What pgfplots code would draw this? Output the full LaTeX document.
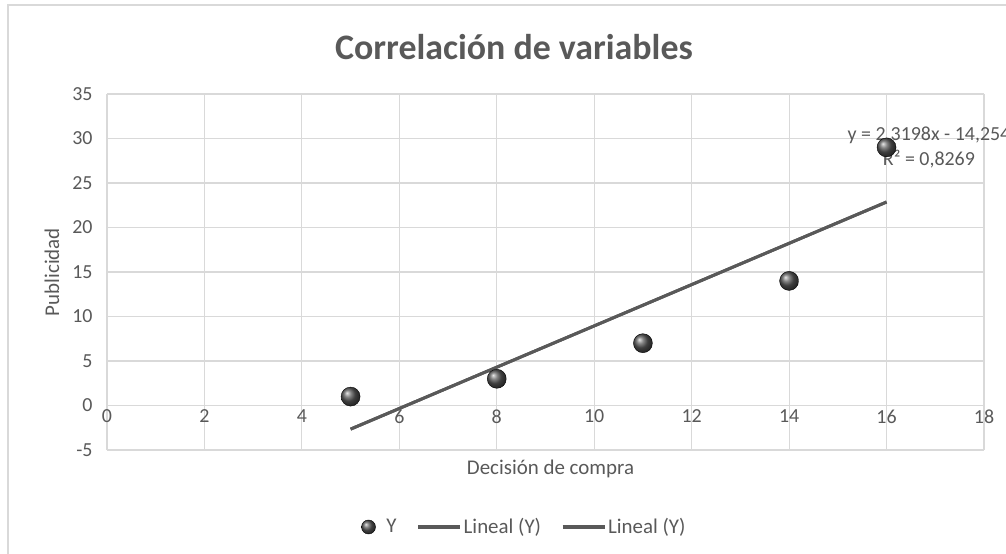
\documentclass[border=0pt]{standalone}
\usepackage{fontspec}
\setmainfont{Carlito}
\usepackage{pgfplots}
\pgfplotsset{compat=1.18}

\definecolor{txtgray}{HTML}{595959}
\definecolor{gridgray}{HTML}{D9D9D9}
\definecolor{linegray}{HTML}{595959}

\begin{document}
\begin{tikzpicture}
  % chart area border
  \draw[gridgray, line width=1.5bp] (8bp,-20bp) -- (8bp,549bp) -- (1030bp,549bp);
  % title
  \node[text=txtgray, font=\bfseries\fontsize{36}{42}\selectfont]
    at (514bp,507bp) {Correlación de variables};

  \begin{axis}[
    at={(107bp,104bp)}, anchor=south west,
    width=877bp, height=356bp, scale only axis,
    xmin=0, xmax=18, ymin=-5, ymax=35,
    axis x line=middle, axis y line=left,
    axis line style={-, draw=gridgray, line width=1.2bp},
    hide obscured x ticks=false, hide obscured y ticks=false,
    xtick={0,2,...,18}, xticklabels={0,2,4,6,8,10,12,14,16,18},
    ytick={-5,0,...,35}, yticklabels={-5,0,5,10,15,20,25,30,35},
    major tick length=0pt,
    grid=major,
    major grid style={draw=gridgray, line width=1.2bp},
    tick label style={text=txtgray, font=\fontsize{20}{24}\selectfont},
    y tick label style={xshift=-11bp},
    x tick label style={yshift=-1bp},
    xlabel={Decisión de compra},
    ylabel={Publicidad},
    label style={text=txtgray, font=\fontsize{21}{25}\selectfont},
    xlabel style={at={(axis description cs:0.5,0)}, anchor=center, xshift=5bp, yshift=-19bp},
    ylabel style={at={(axis description cs:0,0.5)}, anchor=center, yshift=55bp},
    clip=false,
    legend columns=3,
    legend style={at={(axis description cs:0.4755,-0.2163)}, anchor=center,
      draw=none, fill=none, text=txtgray,
      font=\fontsize{21}{25}\selectfont,
      /tikz/every even column/.append style={column sep=18bp}},
  ]
    % observed values
    \addplot[only marks, mark=ball, mark size=9.5bp, mark options={ball color=black!65},
      legend image code/.code={\path[draw=none] (-12bp,0) rectangle (12bp,0);
        \path[mark=ball, mark size=7bp, mark options={ball color=black!65}]
          plot coordinates {(-4bp,0)};}]
      coordinates {(5,1) (8,3) (11,7) (14,14) (16,29)};
    \addlegendentry{Y}
    % linear trend y = 2.3198x - 14.254
    \addplot[linegray, line width=3bp,
      legend image code/.code={\draw[linegray, line width=3bp] (0,0) -- (42bp,0);}]
      coordinates {(5,-2.655) (16,22.863)};
    \addlegendentry{Lineal (Y)}
    \addplot[linegray, line width=3bp,
      legend image code/.code={\draw[linegray, line width=3bp] (0,0) -- (42bp,0);}]
      coordinates {(5,-2.655) (16,22.863)};
    \addlegendentry{Lineal (Y)}

    \node[align=center, text=txtgray, font=\fontsize{20}{25}\selectfont]
      at (axis cs:16.87,29.04) {y = 2,3198x - 14,254\\R² = 0,8269};
  \end{axis}
  \pgfresetboundingbox
  \useasboundingbox (0,0) rectangle (1006bp,554bp);
\end{tikzpicture}
\end{document}
